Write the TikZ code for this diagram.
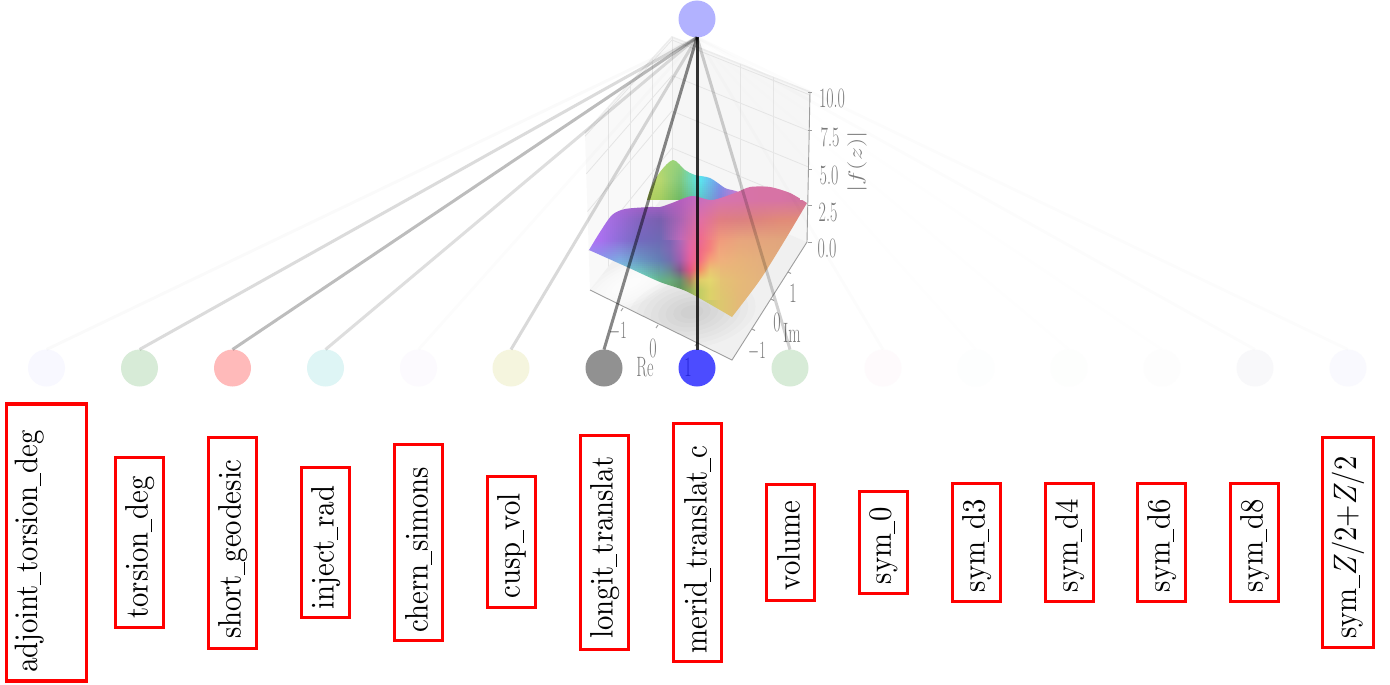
\documentclass[tikz,border=0pt]{standalone}
\usepackage{graphicx}
\font\labfont=cmr10 at 28.7pt
\font\labital=cmmi10 at 28.7pt
\newcommand\us{\kern-.01em\rule[-.13em]{.46em}{.035em}\kern-.01em}
\newcommand\lab[2][0]{\rotatebox{90}{\scalebox{1}[1.13]{\labfont\strut #2\kern#1pt}}}
\newcommand\tk[1]{\scalebox{.57}[1]{\fontsize{28}{30}\selectfont #1}}
\tikzset{
 labbox/.style={draw=red,line width=3.2pt,inner sep=0pt,outer sep=0pt,rectangle,text=black},
 circ/.style={circle,inner sep=0pt,minimum size=37pt,outer sep=0pt},
 edge/.style={black,line width=3pt},
 tick/.style={text=black!52,inner sep=0pt},
 gridl/.style={black!10,line width=.8pt},
 axisl/.style={black!38,line width=.9pt}
}
\newcommand\setrow[3]{\foreach \vR/\vG/\vB [count=\ci from 0] in {#3}{%
  \expandafter\xdef\csname #1R#2:\ci\endcsname{\vR}%
  \expandafter\xdef\csname #1G#2:\ci\endcsname{\vG}%
  \expandafter\xdef\csname #1B#2:\ci\endcsname{\vB}}}
\newcommand\chan[1]{\the\numexpr(\wA*\wB*\csname\tp#1\j:\i\endcsname+\wa*\wB*\csname\tp#1\j:\ii\endcsname+\wA*\wb*\csname\tp#1\jj:\i\endcsname+\wa*\wb*\csname\tp#1\jj:\ii\endcsname)/400\relax}
% prefix, x0, y0, first col, last col, first row, last row, small-square size (cell = 10 squares)
\newcommand\meshpatch[8]{\def\tp{#1}%
 \foreach \i in {#4,...,#5}{\foreach \j in {#6,...,#7}{%
  \edef\ii{\the\numexpr\i+1}\edef\jj{\the\numexpr\j+1}%
  \foreach \a in {0,...,9}{\foreach \b in {0,...,9}{%
   \edef\wa{\the\numexpr2*\a+1}\edef\wA{\the\numexpr19-2*\a}%
   \edef\wb{\the\numexpr2*\b+1}\edef\wB{\the\numexpr19-2*\b}%
   \definecolor{cc}{RGB}{\chan{R},\chan{G},\chan{B}}%
   \edef\px{\the\numexpr#2+10*#8*\i+#8*\a}\edef\py{\the\numexpr#3+10*#8*\j+#8*\b}%
   \fill[cc] (\px,\py) rectangle ++(#8+.4,#8+.4);
  }}}}}
\setrow{F}{0}{175/100/220,175/100/220,175/100/215,175/95/205,175/95/200,180/95/190,200/110/190,215/115/175,215/115/170,215/115/165,215/115/165,210/115/160,210/115/160}
\setrow{F}{1}{175/100/220,175/100/220,175/100/215,175/95/205,175/95/200,180/95/190,200/110/190,215/115/175,215/115/170,215/115/165,215/115/165,210/115/160,210/115/160}
\setrow{F}{2}{180/115/245,175/115/235,155/105/215,130/100/190,120/95/175,170/100/180,225/110/165,225/125/130,220/128/128,222/132/125,225/138/120,225/140/120,225/140/120}
\setrow{F}{3}{180/115/250,170/112/240,140/110/215,115/105/190,110/105/180,190/105/185,240/105/140,240/155/125,232/165/125,228/165/125,225/165/125,225/165/125,225/165/125}
\setrow{F}{4}{150/150/240,135/150/235,125/170/225,105/150/195,100/125/180,185/90/170,245/110/120,240/175/125,232/178/122,228/175/125,225/170/125,225/170/125,225/170/125}
\setrow{F}{5}{120/225/215,120/225/215,125/228/210,115/225/190,100/180/140,110/140/110,225/215/110,228/195/115,230/185/120,228/180/125,228/180/125,228/180/125,228/180/125}
\setrow{F}{6}{120/220/200,120/220/200,120/220/190,110/190/130,100/170/110,120/170/100,190/205/105,220/200/110,228/185/120,228/180/125,228/180/125,228/180/125,228/180/125}
\setrow{F}{7}{120/220/200,120/220/200,120/220/190,110/190/130,100/170/110,120/170/100,190/205/105,220/200/110,228/185/120,228/180/125,228/180/125,228/180/125,228/180/125}
\setrow{G}{0}{110/105/180,125/100/180,170/105/185,220/105/165,235/105/150,242/125/128,240/155/125}
\setrow{G}{1}{110/115/180,125/105/180,170/100/180,228/100/165,240/105/135,245/130/125,240/170/125}
\setrow{G}{2}{100/125/180,115/110/175,160/95/175,230/95/155,245/110/130,245/160/120,240/175/125}
\setrow{G}{3}{100/155/170,105/135/150,130/90/140,225/85/130,245/140/105,235/195/115,232/190/118}
\setrow{G}{4}{100/180/140,105/170/125,100/145/110,175/130/95,225/205/105,228/215/110,228/200/115}
\setrow{G}{5}{100/170/110,105/165/105,95/150/90,140/170/90,195/205/100,220/210/105,225/200/112}
\setrow{G}{6}{100/170/110,105/165/105,95/150/90,140/170/90,195/205/100,220/210/105,225/200/112}
\setrow{K}{0}{170/215/115,170/215/115,150/210/125,90/225/225,110/170/235,160/120/225}
\setrow{K}{1}{195/215/110,185/215/110,130/200/125,90/230/240,120/150/235,200/125/225}
\setrow{K}{2}{190/210/100,165/205/95,110/185/100,90/200/200,130/130/220,215/120/200}
\definecolor{c1}{RGB}{248,248,255}\definecolor{c2}{RGB}{215,235,215}\definecolor{c4}{RGB}{222,245,245}
\definecolor{c5}{RGB}{252,250,254}\definecolor{c6}{RGB}{245,245,222}\definecolor{c10}{RGB}{254,250,252}
\definecolor{c11}{RGB}{253,254,254}\definecolor{c12}{RGB}{253,254,253}\definecolor{c13}{RGB}{253,253,253}
\definecolor{c14}{RGB}{248,248,250}\definecolor{c15}{RGB}{249,249,254}
\begin{document}
\begin{tikzpicture}[x=1pt,y=-1pt]
\useasboundingbox (0,0) rectangle (1390,685);
\fill[white] (0,0) rectangle (1390,685);
% ---- 3D plot panes
\fill[black!2.5] (585,133) -- (672,37) -- (672,185) -- (590,290) -- cycle;
\fill[black!3.5] (672,37) -- (810,92) -- (807,242) -- (672,185) -- cycle;
\draw[black!7,line width=1.5pt] (585,133) -- (672,37) -- (810,92);
\foreach \t in {0.02,0.26,0.5,0.75}{
  \draw[gridl] ({585+5*\t},{133+157*\t}) -- (672,{37+148*\t}) -- ({810-3*\t},{92+150*\t});
}
\draw[gridl] (608,108) -- (608,267);
\draw[gridl] (630,83) -- (630,239);
\draw[gridl] (652,59) -- (652,211);
\draw[gridl] (672,37) -- (672,185);
\draw[gridl] (740,64) -- (740,214);
\draw[gridl] (773,77) -- (773,228);
% floor
\begin{scope}
\clip (590,290) -- (732,360) -- (807,242) -- (672,185) -- cycle;
\fill[black!6] (560,170) rectangle (820,370);
\foreach \k in {1,...,7}{
  \fill[white,opacity=.25,rotate around={25:(630,284)}] (630,284) ellipse ({62-7*\k} and {24-2.8*\k});
}
\foreach \k in {0,...,7}{
  \fill[black,opacity=.016,rotate around={8:(692,312)}] (692,312) ellipse ({64-7.5*\k} and {36-4.2*\k});
}
\end{scope}
\draw[axisl] (590,290) -- (732,360) -- (807,242);
\foreach \p/\q in {623/308,658/325,697/343}{\draw[axisl] (\p,\q) -- ++(-2,3);}
\foreach \p/\q in {752/329,771/299,788/272}{\draw[axisl] (\p,\q) -- ++(3,1.5);}
\draw[axisl] (810,92) -- (807,242);
\foreach \q in {92,130,169,205,242}{\draw[axisl] (808,\q) -- ++(4,0);}
% ---- surface
\begin{scope}
\clip plot[smooth,tension=.5] coordinates {(645,208) (650,190) (660,172) (673,160) (685,170) (695,175) (710,178) (725,188) (738,194) (690,210) (645,208)};
\meshpatch{K}{640}{160}{0}{4}{0}{1}{2}
\end{scope}
\begin{scope}
\clip plot[smooth,tension=.45] coordinates {(589,250) (600,232) (612,215) (625,209) (650,207) (660,207) (672,203) (692,196) (712,200) (735,193) (750,187) (770,187) (790,193) (807,203)} -- plot[smooth,tension=.45] coordinates {(807,203) (785,240) (760,280) (732,317)} -- plot[smooth,tension=.45] coordinates {(732,317) (688,292) (660,282) (627,267) (589,250)} -- cycle;
\meshpatch{F}{580}{180}{5}{10}{0}{0}{2}
\meshpatch{F}{580}{180}{1}{11}{1}{1}{2}
\meshpatch{F}{580}{180}{0}{10}{2}{2}{2}
\meshpatch{F}{580}{180}{0}{3}{3}{3}{2}
\meshpatch{F}{580}{180}{7}{10}{3}{3}{2}
\meshpatch{F}{580}{180}{1}{3}{4}{4}{2}
\meshpatch{F}{580}{180}{7}{9}{4}{4}{2}
\meshpatch{F}{580}{180}{3}{3}{5}{5}{2}
\meshpatch{F}{580}{180}{7}{8}{5}{5}{2}
\meshpatch{F}{580}{180}{6}{8}{6}{6}{2}
\meshpatch{G}{660}{240}{0}{5}{0}{5}{1}
\end{scope}
% ---- tick labels
\node[tick] (t10) at (832,98) {\tk{10.0}};
\node[tick] (t75) at (830,137) {\tk{7.5}};
\node[tick] (t50) at (829,175) {\tk{5.0}};
\node[tick] (t25) at (828,212) {\tk{2.5}};
\node[tick] (t00) at (827,248) {\tk{0.0}};
\node[tick] (tz) at (857,162) {\rotatebox{90}{\scalebox{1.05}[.78]{\fontsize{28}{30}\selectfont $|f(z)|$}}};
\node[tick] (xa) at (618,332) {\tk{$-1$}};
\node[tick] (xb) at (653,348) {\tk{0}};
\node[tick] (xc) at (688,367) {\tk{1}};
\node[tick] (xl) at (645,367) {\tk{Re}};
\node[tick] (ya) at (757,352) {\tk{$-1$}};
\node[tick] (yb) at (777,322) {\tk{0}};
\node[tick] (yc) at (793,293) {\tk{1}};
\node[tick] (yl) at (792,333) {\tk{Im}};
% ---- circles
\node[circ,fill=blue,fill opacity=.3] (top) at (697,19) {};
\node[circ,fill=c1] (n1) at (46.5,368) {};
\node[circ,fill=c2] (n2) at (139.5,368) {};
\node[circ,fill=red,fill opacity=.27] (n3) at (232.5,368) {};
\node[circ,fill=c4] (n4) at (325.5,368) {};
\node[circ,fill=c5] (n5) at (418.5,368) {};
\node[circ,fill=c6] (n6) at (511,368) {};
\node[circ,fill=black,fill opacity=.43] (n7) at (604,368) {};
\node[circ,fill=blue,fill opacity=.7] (n8) at (697,368) {};
\node[circ,fill=c2] (n9) at (790,368) {};
\node[circ,fill=c10] (n10) at (883,368) {};
\node[circ,fill=c11] (n11) at (976,368) {};
\node[circ,fill=c12] (n12) at (1069,368) {};
\node[circ,fill=c13] (n13) at (1162,368) {};
\node[circ,fill=c14] (n14) at (1255,368) {};
\node[circ,fill=c15] (n15) at (1348,368) {};
% ---- connectors
\draw[edge,opacity=.02] (top.south) -- (n1.north);
\draw[edge,opacity=.14] (top.south) -- (n2.north);
\draw[edge,opacity=.26] (top.south) -- (n3.north);
\draw[edge,opacity=.13] (top.south) -- (n4.north);
\draw[edge,opacity=.012] (top.south) -- (n5.north);
\draw[edge,opacity=.15] (top.south) -- (n6.north);
\draw[edge,opacity=.47] (top.south) -- (n7.north);
\draw[edge,opacity=.8] (top.south) -- (n8.north);
\draw[edge,opacity=.18] (top.south) -- (n9.north);
\draw[edge,opacity=.01] (top.south) -- (n10.north);
\draw[edge,opacity=.005] (top.south) -- (n11.north);
\draw[edge,opacity=.004] (top.south) -- (n12.north);
\draw[edge,opacity=.004] (top.south) -- (n13.north);
\draw[edge,opacity=.012] (top.south) -- (n14.north);
\draw[edge,opacity=.012] (top.south) -- (n15.north);
% ---- boxes
\node[labbox,minimum width=80pt,minimum height=277pt] (b1) at (46.5,542.5) {\hspace*{-35pt}\lab[18]{adjoint\us torsion\us deg}};
\node[labbox,minimum width=48pt,minimum height=170pt] (b2) at (139.5,542.5) {\lab[10]{torsion\us deg}};
\node[labbox,minimum width=48pt,minimum height=211pt] (b3) at (232.5,543) {\lab[12]{short\us geodesic}};
\node[labbox,minimum width=48pt,minimum height=150pt] (b4) at (325.5,542.5) {\lab[10]{inject\us rad}};
\node[labbox,minimum width=48pt,minimum height=196pt] (b5) at (418.5,542.5) {\lab[14]{chern\us simons}};
\node[labbox,minimum width=48pt,minimum height=131pt] (b6) at (511.5,542) {\lab[8]{cusp\us vol}};
\node[labbox,minimum width=48pt,minimum height=214pt] (b7) at (604.5,542.5) {\lab[10]{longit\us translat}};
\node[labbox,minimum width=48pt,minimum height=238pt] (b8) at (697.5,542.5) {\lab[14]{merid\us translat\us c}};
\node[labbox,minimum width=48pt,minimum height=116pt] (b9) at (790.5,542.5) {\lab[6]{volume}};
\node[labbox,minimum width=48pt,minimum height=102pt] (b10) at (883.5,542.5) {\lab[6]{sym\us 0}};
\node[labbox,minimum width=48pt,minimum height=118pt] (b11) at (976.5,542.5) {\lab[6]{sym\us d3}};
\node[labbox,minimum width=48pt,minimum height=118pt] (b12) at (1069.5,542.5) {\lab[6]{sym\us d4}};
\node[labbox,minimum width=48pt,minimum height=118pt] (b13) at (1161.5,542.5) {\lab[6]{sym\us d6}};
\node[labbox,minimum width=48pt,minimum height=118pt] (b14) at (1254.5,542.5) {\lab[6]{sym\us d8}};
\node[labbox,minimum width=51pt,minimum height=210pt] (b15) at (1348,542.5) {\lab[10]{sym\us{\labital Z}/2+{\labital Z}/2}};
\end{tikzpicture}
\end{document}
